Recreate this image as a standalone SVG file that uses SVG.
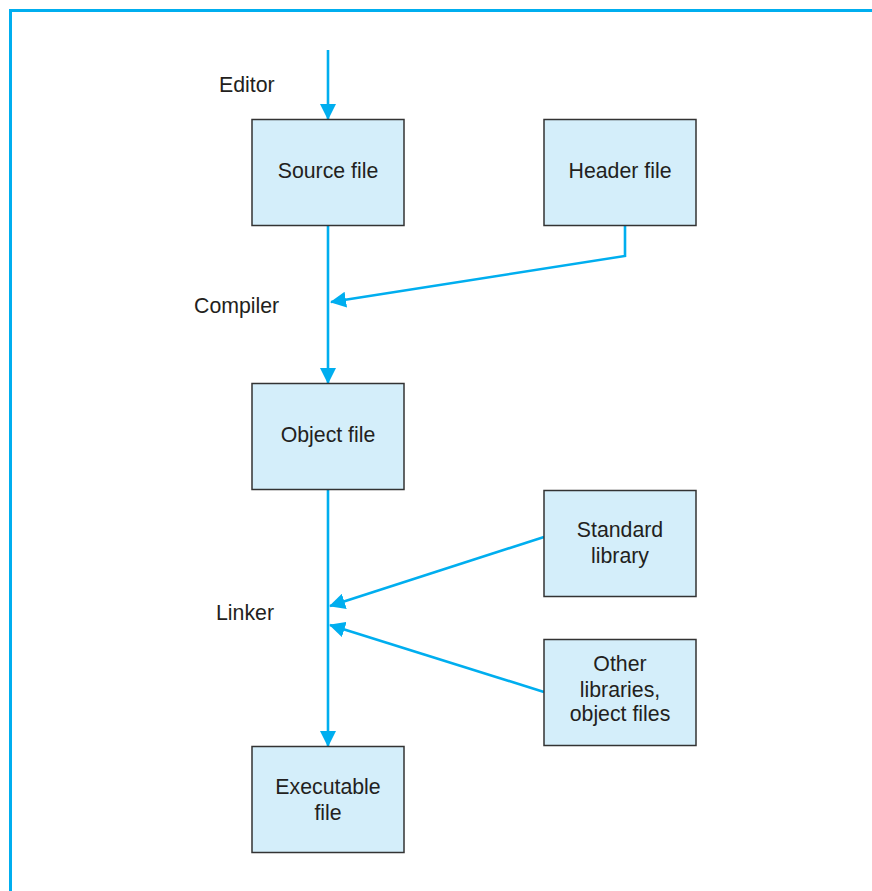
<svg xmlns="http://www.w3.org/2000/svg" width="872" height="891" viewBox="0 0 872 891">
<defs>
<marker id="ah" markerUnits="userSpaceOnUse" markerWidth="16" markerHeight="16" viewBox="0 0 16 16" refX="15" refY="8" orient="auto">
<path d="M0,0 L16,8 L0,16 Z" fill="#00aeef"/>
</marker>
<style>
.box{fill:#d4eefa;stroke:#333;stroke-width:1.5}
.t{font-family:"Liberation Sans",Arial,sans-serif;font-size:21.3px;fill:#231f20;text-anchor:middle}
.lbl{font-family:"Liberation Sans",Arial,sans-serif;font-size:21.3px;fill:#231f20}
.c{fill:none;stroke:#00aeef;stroke-width:2.6}
</style>
</defs>
<rect width="872" height="891" fill="#fff"/>
<path d="M10.5,891 V10.5 H872" fill="none" stroke="#00aeef" stroke-width="3"/>
<g id="connectors">
<line class="c" x1="328" y1="50" x2="328" y2="119" marker-end="url(#ah)"/>
<line class="c" x1="328" y1="225" x2="328" y2="383" marker-end="url(#ah)"/>
<polyline class="c" points="625,225 625,256 331,302" marker-end="url(#ah)"/>
<line class="c" x1="328" y1="489" x2="328" y2="746" marker-end="url(#ah)"/>
<line class="c" x1="544" y1="537" x2="330" y2="606" marker-end="url(#ah)"/>
<line class="c" x1="544" y1="692" x2="330" y2="625" marker-end="url(#ah)"/>
</g>
<g id="labels">
<text class="lbl" x="219" y="92">Editor</text>
<text class="lbl" x="194" y="313">Compiler</text>
<text class="lbl" x="216" y="620">Linker</text>
</g>
<g id="source">
<rect class="box" x="252" y="119.5" width="152" height="106"/>
<text class="t" x="328" y="178">Source file</text>
</g>
<g id="header">
<rect class="box" x="544" y="119.5" width="152" height="106"/>
<text class="t" x="620" y="178">Header file</text>
</g>
<g id="object">
<rect class="box" x="252" y="383.5" width="152" height="106"/>
<text class="t" x="328" y="442">Object file</text>
</g>
<g id="stdlib">
<rect class="box" x="544" y="490.5" width="152" height="106"/>
<text class="t" x="620" y="537">Standard</text>
<text class="t" x="620" y="563">library</text>
</g>
<g id="otherlibs">
<rect class="box" x="544" y="639.5" width="152" height="106"/>
<text class="t" x="620" y="671">Other</text>
<text class="t" x="620" y="697">libraries,</text>
<text class="t" x="620" y="721">object files</text>
</g>
<g id="executable">
<rect class="box" x="252" y="746.5" width="152" height="106"/>
<text class="t" x="328" y="794">Executable</text>
<text class="t" x="328" y="820">file</text>
</g>
</svg>
